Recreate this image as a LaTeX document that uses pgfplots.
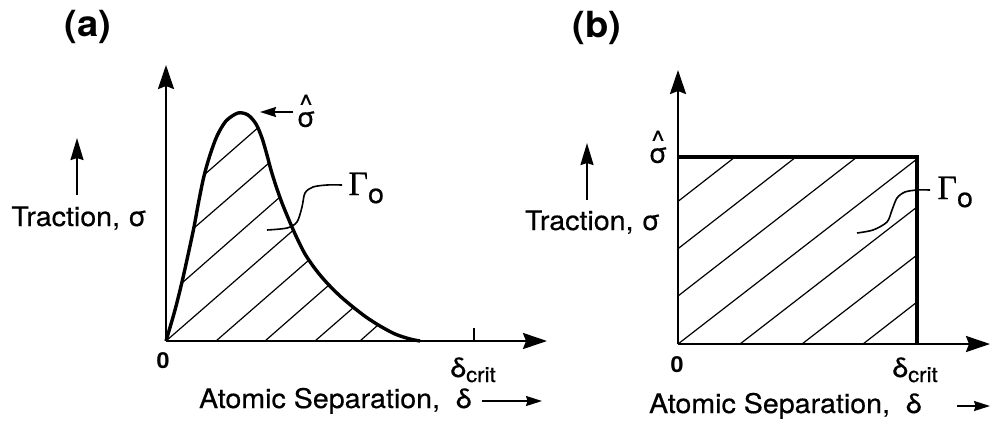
\documentclass[border=0pt]{standalone}
\usepackage{pgfplots}
\pgfplotsset{compat=1.18}
\usetikzlibrary{arrows.meta}
\usepackage{fontspec}
\setmainfont{TeX Gyre Heros}[FakeStretch=1.06, UprightFeatures={FakeBold=0.4}]
\newfontfamily\gammafont{Liberation Serif}[UprightFeatures={FakeBold=0.3}]

\newcommand\lbl{\fontsize{13.5}{16}\selectfont}
\newcommand\sigmahat{\ooalign{σ\cr\hidewidth\raisebox{0.48em}{\textasciicircum}\hidewidth\cr}}
\newcommand\gammazero{{\gammafont\fontsize{17}{20}\selectfont Γ}\raisebox{-4pt}{\lbl o}}
\newcommand\dcrit{δ\raisebox{-2.5pt}{\fontsize{10.5}{12}\selectfont crit}}

\tikzset{
  hatch/.style={line width=0.6pt, black},
  bigarrow/.style={line width=1pt, -{Stealth[length=11pt,width=6.5pt,inset=1pt]}},
  smallarrow/.style={line width=0.9pt, -{Stealth[length=8pt,width=5pt,inset=0.8pt]}},
}
\pgfplotsset{
  panel/.style={
    scale only axis, axis lines=left, clip=false,
    xtick=\empty, ytick=\empty,
    axis line style={line width=1.2pt, -{Stealth[length=12pt,width=8pt,inset=1.5pt]}},
    xmin=0, ymin=0, anchor=south west,
  },
}

\begin{document}
\begin{tikzpicture}
\path[use as bounding box] (0,0) rectangle (500pt,-214.5pt);

% (a) smooth traction-separation law
\begin{axis}[panel, at={(83pt,-170.5pt)},
  xmax=381, ymax=276, width=190.5pt, height=138pt]
  % hatching under the curve
  \addplot[hatch, no marks] coordinates {(38,166) (91.7,213)};
  \addplot[hatch, no marks] coordinates {(28,113) (103,178)};
  \addplot[hatch, no marks] coordinates {(16,58) (114,144)};
  \addplot[hatch, no marks] coordinates {(0,0) (127.5,111)};
  \addplot[hatch, no marks] coordinates {(50,0) (143,81)};
  \addplot[hatch, no marks] coordinates {(99,0) (163,56)};
  \addplot[hatch, no marks] coordinates {(149,0) (187.5,33.5)};
  \addplot[hatch, no marks] coordinates {(194,0) (212,16)};
  % traction curve
  \addplot[line width=1.7pt, black, smooth, tension=0.5, no marks] coordinates {
    (0,0) (9,31) (16,59) (22,86) (28,114) (33,141) (38,165) (44,186)
    (51,205) (60,220) (72,228) (82,226) (90,217) (96,203) (101,186)
    (105,171) (110,155) (116,138) (123,121) (130,105) (139,87) (150,71)
    (161,58) (174,45) (187,34) (200,24) (214,15) (229,7) (244,2) (254,0)};
  % leader to Gamma_0
  \addplot[line width=0.8pt, black, smooth, no marks] coordinates {
    (101,111) (121,113) (131,119) (136,134) (139,148) (147,154) (161,156) (176,156)};
  \node[anchor=base west, inner sep=0pt] at (182,146) {\gammazero};
  % peak marker
  \draw[smallarrow] (127,229) -- (94,229);
  \node[inner sep=0pt, font=\lbl] at (140,222) {\sigmahat};
  % delta_crit tick
  \draw[line width=1.2pt] (308,0) -- (308,13);
  \node[anchor=base west, inner sep=0pt, font=\lbl] at (284,-36) {\dcrit};
  \node[inner sep=0pt, font=\fontsize{11}{13}\selectfont\bfseries] at (-3,-20) {0};
  % axis titles
  \node[anchor=base east, inner sep=0pt, font=\lbl] at (306,-67) {Atomic Separation,\ \ δ};
  \draw[smallarrow] (316,-60) -- (376,-60);
  \node[anchor=base, inner sep=0pt, font=\lbl] at (-87,115) {Traction, σ};
  \draw[bigarrow] (-89,146) -- (-89,203);
  \node[inner sep=0pt, font=\fontsize{18}{21}\selectfont\bfseries] at (-78,314) {(a)};
\end{axis}

% (b) rectangular traction-separation law
\begin{axis}[panel, at={(339pt,-172pt)},
  xmax=312, ymax=274, width=156pt, height=137pt]
  \addplot[hatch, no marks] coordinates {(0,142.6) (57,187)};
  \addplot[hatch, no marks] coordinates {(0,95.3) (118,187)};
  \addplot[hatch, no marks] coordinates {(0,48) (179,187)};
  \addplot[hatch, no marks] coordinates {(0,0) (239,185)};
  \addplot[hatch, no marks] coordinates {(62,0) (239,137)};
  \addplot[hatch, no marks] coordinates {(124,0) (239,89)};
  \addplot[hatch, no marks] coordinates {(185,0) (239,42)};
  % constant traction up to delta_crit
  \addplot[line width=1.7pt, black, line join=miter, no marks] coordinates {
    (0,187) (239,187) (239,0)};
  % leader to Gamma_0
  \addplot[line width=0.8pt, black, smooth, no marks] coordinates {
    (179,111) (195,114) (209,122) (214,134) (219,146) (227,152) (239,154) (252,154)};
  \node[anchor=base west, inner sep=0pt] at (259,145) {\gammazero};
  \node[inner sep=0pt, font=\lbl] at (-20,189) {\sigmahat};
  \node[anchor=base west, inner sep=0pt, font=\lbl] at (214,-33) {\dcrit};
  \node[inner sep=0pt, font=\fontsize{11}{13}\selectfont\bfseries] at (-1,-21) {0};
  \node[anchor=base east, inner sep=0pt, font=\lbl] at (244,-69) {Atomic Separation,\ \ δ};
  \draw[smallarrow] (279,-62) -- (312,-62);
  \node[anchor=base, inner sep=0pt, font=\lbl] at (-85.5,114) {Traction, σ};
  \draw[bigarrow] (-91,144) -- (-91,201);
  \node[inner sep=0pt, font=\fontsize{18}{21}\selectfont\bfseries] at (-81,316) {(b)};
\end{axis}
\end{tikzpicture}
\end{document}
